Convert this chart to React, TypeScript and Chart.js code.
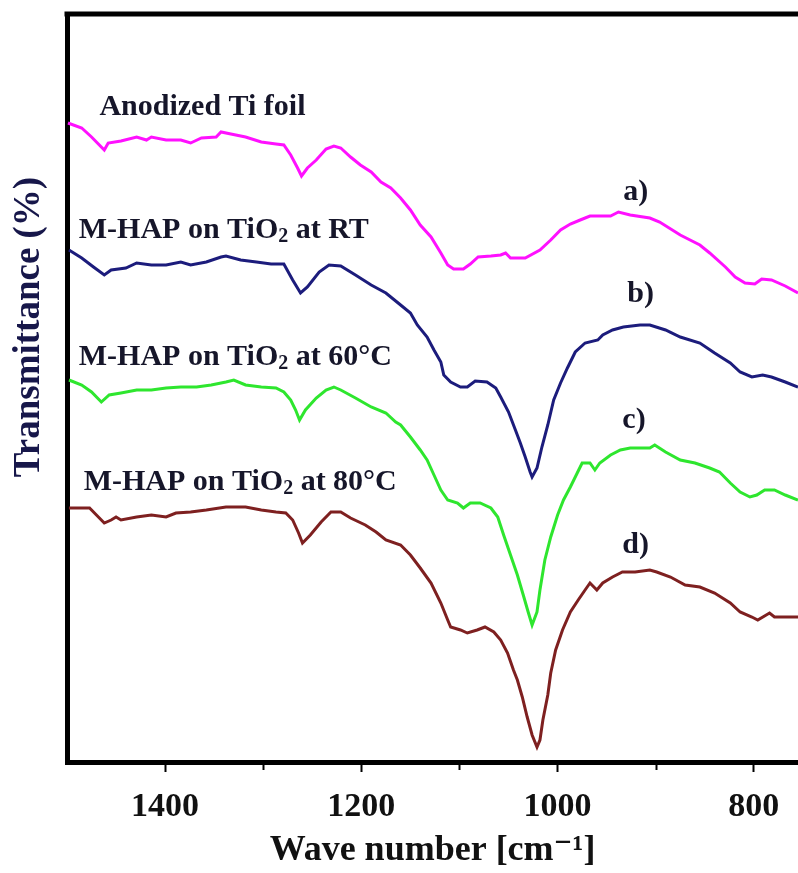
import { useEffect, useRef } from 'react';
import { Chart, registerables } from 'chart.js';

Chart.register(...registerables);

// a) Anodized Ti foil
const waveA = [1499,1485,1475,1462,1458,1445,1429,1419,1414,1399,1384,1374,1363,1348,1343,1333,1318,1302,1287,1279,1272,1265,1261,1255,1246,1236,1228,1221,1211,1201,1190,1180,1170,1160,1150,1140,1129,1119,1112,1106,1096,1089,1081,1068,1058,1053,1048,1033,1018,1007,997,987,977,967,946,938,926,906,896,875,855,845,829,819,809,799,792,782,768,755];
const transA = [639,634,625,612,619,621,625,622,625,622,622,619,624,625,630,628,625,620,618,617,607,594,586,594,602,613,616,614,605,597,590,580,574,564,552,537,525,509,497,493,493,498,505,506,507,509,504,504,512,522,532,538,542,546,546,550,547,544,540,527,517,509,495,485,479,478,483,482,476,469];

// b) M-HAP on TiO2 at RT
const waveB = [1498,1485,1473,1462,1455,1440,1429,1414,1399,1384,1374,1358,1343,1338,1323,1307,1292,1279,1270,1262,1255,1243,1233,1221,1206,1190,1175,1160,1150,1143,1133,1126,1119,1116,1109,1099,1092,1084,1072,1063,1058,1050,1043,1038,1033,1028,1026,1021,1016,1010,1004,997,990,982,972,959,954,944,933,916,906,890,875,855,840,824,814,802,791,782,768,755];
const transB = [512,504,495,487,492,494,499,497,497,500,497,500,505,506,502,500,498,498,482,469,475,490,497,496,487,477,469,457,449,437,425,412,400,387,380,375,375,381,380,374,365,350,332,319,305,290,285,294,315,337,362,379,394,410,419,422,427,432,435,437,437,432,425,419,409,399,390,385,387,385,380,375];

// c) M-HAP on TiO2 at 60°C
const waveC = [1498,1485,1475,1465,1457,1445,1429,1414,1399,1384,1368,1353,1338,1330,1318,1302,1287,1279,1272,1267,1263,1257,1246,1236,1228,1221,1206,1190,1175,1165,1160,1150,1140,1133,1126,1119,1112,1102,1096,1089,1079,1068,1061,1055,1048,1041,1035,1030,1026,1021,1018,1013,1007,1000,994,987,980,975,967,962,957,946,936,926,906,901,890,875,860,845,835,824,814,804,797,789,779,768,755];
const transC = [382,377,370,360,367,369,372,372,374,375,375,377,380,382,377,375,374,370,362,352,342,352,364,372,375,372,364,355,349,340,337,325,312,302,287,272,262,259,254,259,259,254,245,227,207,187,167,150,137,150,172,202,225,247,262,275,289,299,299,292,299,307,312,314,314,317,310,302,299,294,290,279,270,265,267,272,272,267,262];

// d) M-HAP on TiO2 at 80°C
const waveD = [1498,1477,1470,1462,1455,1450,1445,1429,1414,1399,1389,1374,1358,1338,1318,1302,1287,1277,1270,1264,1260,1252,1241,1231,1221,1211,1196,1185,1175,1160,1150,1140,1129,1119,1112,1109,1099,1092,1082,1074,1065,1058,1051,1045,1041,1036,1031,1026,1021,1018,1015,1010,1007,1002,995,987,979,972,967,960,954,944,934,921,906,899,885,870,855,840,824,814,802,796,784,779,768,755];
const transD = [254,254,247,239,242,245,242,245,247,245,249,250,252,255,255,252,250,249,242,229,219,227,240,250,250,244,237,230,222,217,207,194,179,159,142,135,132,129,132,135,130,122,109,92,82,65,45,27,15,22,42,67,89,112,132,150,162,172,179,172,179,185,190,190,192,190,185,177,175,169,159,150,145,142,149,145,145,145];

const seriesNames = ['Anodized Ti foil', 'M-HAP on TiO₂ at RT', 'M-HAP on TiO₂ at 60°C', 'M-HAP on TiO₂ at 80°C'];
const majorTicks = [1400, 1200, 1000, 800];
const minorTicks = [1300, 1100, 900];

const labelTexts = ['Anodized Ti foil', 'M-HAP on TiO₂ at RT', 'M-HAP on TiO₂ at 60°C', 'M-HAP on TiO₂ at 80°C', 'a)', 'b)', 'c)', 'd)'];
const labelWave = [1467, 1488, 1488, 1483, 933, 929, 934, 934];
const labelTrans = [647, 524, 397, 272, 562, 460, 334, 209];

const yTitle = 'Transmittance (%)';
const xTitle = 'Wave number [cm⁻¹]';

const SERIF = "'Liberation Serif', 'Times New Roman', 'DejaVu Serif', serif";

function pts(w: number[], t: number[]) {
  return w.map((x, i) => ({ x, y: t[i] }));
}

const framePlugin = {
  id: 'frameAndLabels',
  afterDraw(chart: any) {
    const { ctx, chartArea, scales } = chart;
    ctx.save();
    ctx.strokeStyle = '#000';
    ctx.lineWidth = 5;
    ctx.beginPath();
    ctx.moveTo(chartArea.left - 2.5, chartArea.top);
    ctx.lineTo(chartArea.right, chartArea.top);
    ctx.stroke();

    ctx.lineWidth = 2;
    minorTicks.forEach((v) => {
      const px = Math.round(scales.x.getPixelForValue(v)) + 0.5;
      ctx.beginPath();
      ctx.moveTo(px, chartArea.bottom + 2.5);
      ctx.lineTo(px, chartArea.bottom + 8);
      ctx.stroke();
    });

    // y axis title (placed above the axis centre, as in the original figure)
    ctx.save();
    ctx.translate(29, 327);
    ctx.rotate(-Math.PI / 2);
    ctx.font = `bold 37px ${SERIF}`;
    ctx.fillStyle = '#17174a';
    ctx.textAlign = 'center';
    ctx.textBaseline = 'middle';
    ctx.fillText(yTitle, 0, 0);
    ctx.restore();

    ctx.fillStyle = '#16162a';
    ctx.textBaseline = 'alphabetic';
    ctx.textAlign = 'left';
    const big = `bold 30px ${SERIF}`;
    const small = `bold 20px ${SERIF}`;
    labelTexts.forEach((txt, i) => {
      let x = scales.x.getPixelForValue(labelWave[i]);
      const y = scales.y.getPixelForValue(labelTrans[i]);
      const parts = txt.split('₂');
      parts.forEach((p, j) => {
        ctx.font = big;
        ctx.fillText(p, x, y);
        x += ctx.measureText(p).width;
        if (j < parts.length - 1) {
          ctx.font = small;
          ctx.fillText('2', x, y + 4);
          x += ctx.measureText('2').width;
        }
      });
    });
    ctx.restore();
  },
};

export default function App() {
  const ref = useRef<HTMLCanvasElement | null>(null);
  useEffect(() => {
    if (!ref.current) return;
    const colors = ['#ff10ff', '#1c1c7c', '#2ee62e', '#7e2020'];
    const data = [pts(waveA, transA), pts(waveB, transB), pts(waveC, transC), pts(waveD, transD)];
    const chart = new Chart(ref.current, {
      type: 'line',
      data: {
        datasets: data.map((d, i) => ({
          label: seriesNames[i],
          data: d,
          borderColor: colors[i],
          borderWidth: 3,
          pointRadius: 0,
          tension: 0,
          fill: false,
        })),
      },
      options: {
        animation: false,
        responsive: false,
        devicePixelRatio: 1,
        layout: { padding: { top: 14, right: 0, left: 0, bottom: 0 } },
        plugins: { legend: { display: false }, tooltip: { enabled: false } },
        scales: {
          x: {
            type: 'linear',
            reverse: true,
            min: 755,
            max: 1500,
            afterBuildTicks: (scale: any) => {
              scale.ticks = [...majorTicks, ...minorTicks].sort((a, b) => a - b).map((v) => ({ value: v }));
            },
            afterFit: (scale: any) => {
              scale.height = 111;
            },
            ticks: {
              autoSkip: false,
              maxRotation: 0,
              padding: 15,
              color: '#111',
              font: { family: SERIF, size: 34, weight: 'bold' },
              callback: (v: any) => (majorTicks.includes(Number(v)) ? String(v) : ''),
            },
            grid: {
              display: true,
              drawOnChartArea: false,
              drawTicks: true,
              tickLength: 10,
              tickWidth: 2,
              tickColor: (c: any) => (c.tick && majorTicks.includes(c.tick.value) ? '#000' : 'rgba(0,0,0,0)'),
            },
            border: { display: true, width: 5, color: '#000' },
            title: {
              display: true,
              text: xTitle,
              color: '#111',
              font: { family: SERIF, size: 36, weight: 'bold' },
              padding: 1,
            },
          },
          y: {
            type: 'linear',
            min: 0,
            max: 748,
            afterFit: (scale: any) => {
              scale.width = 67;
            },
            ticks: { display: false },
            grid: { display: false },
            border: { display: true, width: 5, color: '#000' },
            title: { display: false },
          },
        },
      },
      plugins: [framePlugin],
    } as any);
    return () => chart.destroy();
  }, []);
  return (
    <div style={{ position: 'absolute', left: 0, top: 0, width: 798, height: 873, background: '#fff' }}>
      <canvas ref={ref} width={798} height={873} style={{ display: 'block' }} />
    </div>
  );
}
